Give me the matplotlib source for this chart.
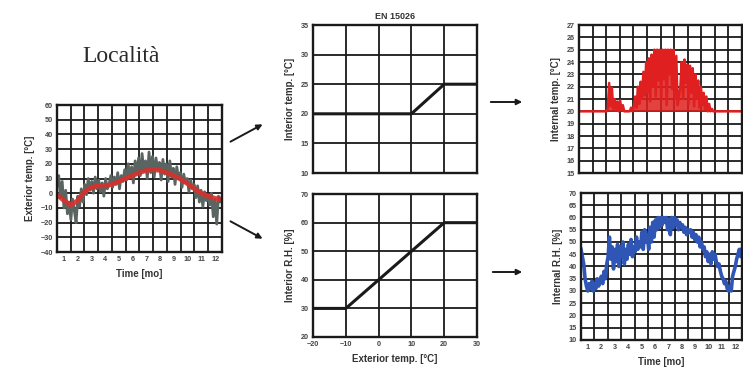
import numpy as np
import matplotlib
matplotlib.use("Agg")
import matplotlib.pyplot as plt
from matplotlib.patches import FancyArrowPatch

plt.rcParams['font.family'] = ['Liberation Sans', 'DejaVu Sans']

# ---- dati ----
months = list(range(1, 13))

# temperatura esterna (grigio, ~8 valori per mese)
ext_temp = [5, 12, -3, 8, -10, 2, -14, -6,
            -18, -4, -12, -20, -2, -9, 3, -6,
            6, -1, 10, 2, 8, 0, 11, 3,
            9, 1, 7, -2, 10, 3, 6, 12,
            4, 11, 6, 14, 3, 12, 8, 16,
            9, 20, 11, 18, 7, 22, 13, 24,
            12, 27, 15, 22, 10, 28, 14, 25,
            11, 24, 16, 21, 9, 23, 13, 20,
            8, 22, 11, 17, 6, 18, 10, 14,
            4, 13, 7, 10, 1, 9, 3, 6,
            -3, 5, -6, 2, -9, 1, -5, -1,
            -8, 0, -16, -4, -21, -2, -6, -3]

# media mobile (rosso)
ext_mean = [-1, -5, -8, -5, 1, 4, 5, 5, 6, 8, 10, 12, 14, 15.5, 16, 15.5,
            14, 12, 9.5, 6.5, 3, 0, -2, -3.5, -4]

# EN 15026
en_t_x = [-20, 10, 20, 30]
en_t_y = [20, 20, 25, 25]
en_rh_x = [-20, -10, 20, 30]
en_rh_y = [30, 30, 60, 60]

# temperatura interna (10 valori per mese)
int_temp = [20] * 20 + \
    [20, 20.2, 22.3, 20.4, 21.9, 20.2, 21.0, 20.1, 20.8, 20.0,
     20.9, 20.1, 20.5, 20, 20, 20, 20, 20, 20.3, 20,
     20.4, 21.2, 20.3, 22.0, 20.6, 22.4, 21.0, 23.2, 21.3, 24.0,
     21.5, 24.3, 20.8, 24.6, 22.0, 25.0, 21.2, 25.0, 22.5, 25.0,
     21.0, 25.0, 22.6, 25.0, 20.5, 25.0, 23.0, 25.0, 21.8, 25.0,
     21.0, 24.5, 20.5, 21.3, 22.0, 24.0, 21.0, 24.2, 22.3, 23.8,
     20.6, 23.7, 21.5, 23.5, 20.4, 23.0, 21.0, 22.5, 20.3, 22.0,
     20.5, 21.5, 20.2, 21.2, 20.0, 20.6, 20.0, 20.2, 20.0, 20.0] + [20] * 20

# umidita' relativa interna (10 valori per mese)
int_rh = [47, 44, 41, 35, 32, 30, 33, 31, 34, 30,
          33, 31, 35, 32, 34, 36, 33, 38, 35, 41,
          44, 52, 43, 48, 39, 47, 42, 49, 40, 48,
          44, 50, 41, 47, 43, 49, 45, 51, 44, 48,
          46, 52, 47, 50, 48, 54, 47, 55, 50, 53,
          47, 56, 50, 58, 52, 59, 55, 60, 56, 60,
          57, 60, 58, 60, 55, 59, 53, 60, 56, 60,
          57, 59, 55, 58, 56, 57, 54, 56, 53, 55,
          54, 55, 52, 54, 51, 53, 50, 52, 48, 50,
          47, 48, 44, 46, 42, 45, 41, 46, 43, 45,
          42, 40, 41, 38, 36, 35, 33, 34, 31, 30,
          32, 30, 36, 38, 40, 43, 45, 47, 44, 47]

LBL = dict(fontsize=7, fontweight='bold', color='#333333')


def style(ax, months_axis=False, show_x=True):
    for s in ax.spines.values():
        s.set_linewidth(1.7)
        s.set_color('#1a1a1a')
    ax.tick_params(which='both', length=0, labelsize=5.2, colors='#444444', pad=3)
    for t in ax.get_xticklabels() + ax.get_yticklabels():
        t.set_fontweight('bold')
    if months_axis:
        ax.set_xlim(0.5, 12.5)
        ax.set_xticks(months)
        ax.set_xticks(np.arange(0.5, 13, 1), minor=True)
        ax.grid(True, which='minor', axis='x', color='#1a1a1a', lw=1.3)
        ax.grid(True, which='major', axis='y', color='#1a1a1a', lw=1.3)
    else:
        ax.grid(True, color='#1a1a1a', lw=1.3)
    if not show_x:
        ax.set_xticklabels([])
    ax.set_axisbelow(True)


fig = plt.figure(figsize=(7.43, 3.80), dpi=100)

# pannello sinistro
ax1 = fig.add_axes([0.0767, 0.3368, 0.222, 0.3868])
x_ext = np.linspace(0.5, 12.5, len(ext_temp))
x_mean = np.linspace(0.5, 12.5, len(ext_mean))
ax1.plot(x_ext, ext_temp, color='#5a6460', lw=2.0)
ax1.plot(x_mean, ext_mean, color='#d8302c', lw=3.4, alpha=0.9)
ax1.set_ylim(-40, 60)
ax1.set_yticks(range(-40, 61, 10))
style(ax1, months_axis=True)
ax1.set_xlabel('Time [mo]', **LBL)
ax1.set_ylabel('Exterior temp. [°C]', **LBL)

# centro alto
ax2 = fig.add_axes([0.4213, 0.5447, 0.2207, 0.3895])
ax2.plot(en_t_x, en_t_y, color='#1a1a1a', lw=2.2)
ax2.set_xlim(-20, 30)
ax2.set_ylim(10, 35)
ax2.set_xticks(range(-20, 31, 10))
ax2.set_yticks(range(10, 36, 5))
style(ax2, show_x=False)
ax2.set_ylabel('Interior temp. [°C]', **LBL)
ax2.set_title('EN 15026', fontsize=6.5, fontweight='bold', color='#333333', pad=4)

# centro basso
ax3 = fig.add_axes([0.4213, 0.1132, 0.2207, 0.376])
ax3.plot(en_rh_x, en_rh_y, color='#1a1a1a', lw=2.2)
ax3.set_xlim(-20, 30)
ax3.set_ylim(20, 70)
ax3.set_xticks(range(-20, 31, 10))
ax3.set_yticks(range(20, 71, 10))
style(ax3)
ax3.set_xlabel('Exterior temp. [°C]', **LBL)
ax3.set_ylabel('Interior R.H. [%]', **LBL)

# destra alto
ax4 = fig.add_axes([0.7793, 0.5447, 0.2194, 0.3895])
x_int = np.linspace(0.5, 12.5, len(int_temp))
ax4.fill_between(x_int, 20, int_temp, color='#e02020', lw=0, alpha=0.85)
ax4.plot(x_int, int_temp, color='#e02020', lw=1.8)
ax4.set_ylim(15, 27)
ax4.set_yticks(range(15, 28))
style(ax4, months_axis=True, show_x=False)
ax4.set_ylabel('Internal temp. [°C]', **LBL)

# destra basso
ax5 = fig.add_axes([0.7820, 0.1053, 0.2167, 0.3868])
x_rh = np.linspace(0.5, 12.5, len(int_rh))
ax5.plot(x_rh, int_rh, color='#2f55b5', lw=2.6)
ax5.set_ylim(10, 70)
ax5.set_yticks(range(10, 71, 5))
style(ax5, months_axis=True)
ax5.set_xlabel('Time [mo]', **LBL)
ax5.set_ylabel('Internal R.H. [%]', **LBL)

fig.text(0.163, 0.85, 'Località', fontsize=17, family='Liberation Serif',
         color='#2a2a2a', ha='center', va='center')

# frecce
arrows = [((0.3069, 0.6237), (0.3567, 0.6763)),
          ((0.3069, 0.4211), (0.3567, 0.3684)),
          ((0.6568, 0.7316), (0.7066, 0.7316)),
          ((0.6595, 0.2842), (0.7066, 0.2842))]
for a, b in arrows:
    fig.add_artist(FancyArrowPatch(a, b, transform=fig.transFigure,
                                   arrowstyle='-|>', mutation_scale=8,
                                   color='#1a1a1a', lw=1.4))

fig.savefig('out.png', dpi=100)
